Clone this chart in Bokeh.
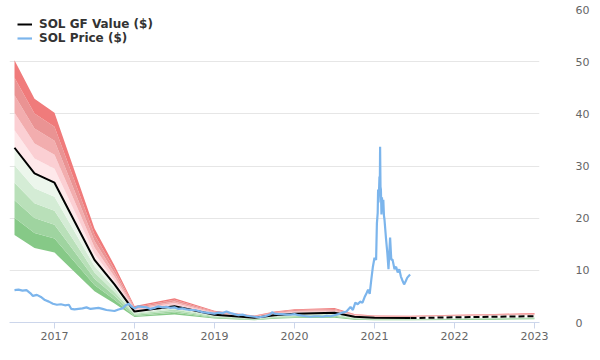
from bokeh.plotting import figure
from bokeh.models import FixedTicker, Legend, LegendItem
from bokeh.embed import file_html
from bokeh.resources import INLINE

# GF Value history (decimal years)
gf_dates = [2016.5, 2016.75, 2017.0, 2017.5, 2017.75, 2018.0, 2018.5, 2019.0,
            2019.5, 2019.75, 2020.0, 2020.5, 2020.75, 2021.0, 2021.45]
gf_values = [33.5, 28.6, 26.8, 12.0, 7.3, 2.1, 3.1, 1.5,
             0.9, 1.4, 1.7, 1.85, 1.1, 0.9, 0.85]

# GF Value projection (dashed)
proj_dates = [2021.45, 2022.0, 2022.5, 2023.0]
proj_values = [0.85, 1.0, 1.1, 1.2]

# band multipliers around GF value
band_levels = [0.5, 0.6, 0.7, 0.8, 0.9, 1.0, 1.1, 1.2, 1.3, 1.4, 1.5]
band_colors = ["#86c987", "#9fd4a0", "#b9e0b9", "#d4ecd5", "#ecf6ec",
               "#fee8ea", "#fbcfd3", "#f2adae", "#ea9393", "#f07b7b"]

# SOL price
price_dates = [
    2016.50, 2016.55, 2016.60, 2016.65, 2016.70, 2016.73, 2016.78, 2016.83, 2016.88, 2016.93,
    2016.98, 2017.03, 2017.08, 2017.13, 2017.18, 2017.21, 2017.25, 2017.30, 2017.35, 2017.40,
    2017.45, 2017.50, 2017.55, 2017.60, 2017.65, 2017.70, 2017.75, 2017.80, 2017.85, 2017.89,
    2017.93, 2017.97, 2018.00, 2018.05, 2018.10, 2018.15, 2018.20, 2018.25, 2018.30, 2018.35,
    2018.40, 2018.45, 2018.50, 2018.55, 2018.60, 2018.65, 2018.70, 2018.75, 2018.80, 2018.85,
    2018.90, 2018.95, 2019.00, 2019.05, 2019.10, 2019.15, 2019.20, 2019.25, 2019.30, 2019.35,
    2019.40, 2019.45, 2019.50, 2019.55, 2019.60, 2019.65, 2019.70, 2019.72, 2019.75, 2019.80,
    2019.85, 2019.90, 2019.95, 2020.00, 2020.05, 2020.10, 2020.15, 2020.20, 2020.25, 2020.30,
    2020.35, 2020.40, 2020.45, 2020.50, 2020.55, 2020.60, 2020.65, 2020.70, 2020.73, 2020.76,
    2020.79, 2020.82, 2020.85, 2020.88, 2020.90, 2020.92, 2020.94, 2020.96, 2020.98, 2021.00,
    2021.02, 2021.03, 2021.04, 2021.045, 2021.05, 2021.055, 2021.062, 2021.066, 2021.07, 2021.075,
    2021.08, 2021.087, 2021.093, 2021.10, 2021.11, 2021.118, 2021.125,
    2021.145, 2021.16, 2021.175, 2021.195, 2021.21, 2021.225, 2021.25, 2021.27, 2021.29, 2021.31,
    2021.33, 2021.345, 2021.37, 2021.39, 2021.41, 2021.445]
price_values = [
    6.2, 6.3, 6.1, 6.2, 5.6, 5.1, 5.3, 4.9, 4.3, 4.0,
    3.6, 3.4, 3.5, 3.3, 3.4, 2.6, 2.5, 2.6, 2.7, 2.9,
    2.6, 2.7, 2.8, 2.6, 2.4, 2.3, 2.2, 2.5, 2.7, 3.3,
    3.6, 3.0, 2.7, 3.1, 3.0, 2.9, 2.6, 2.8, 3.1, 2.9,
    3.0, 2.8, 2.9, 2.6, 2.7, 2.5, 2.4, 2.4, 2.2, 2.0,
    1.9, 1.8, 1.7, 1.9, 1.8, 2.1, 1.8, 1.6, 1.4, 1.5,
    1.3, 1.2, 1.1, 1.0, 1.1, 1.3, 1.6, 2.0, 1.7, 1.6,
    1.6, 1.5, 1.5, 1.6, 1.4, 1.3, 1.2, 1.1, 1.2, 1.2,
    1.1, 1.3, 1.2, 1.4, 1.6, 1.9, 2.1, 3.0, 2.4, 3.8,
    3.5, 4.0, 3.8, 5.0, 5.6, 6.3, 5.5, 8.2, 10.7, 12.4,
    12.0, 19.0, 21.0, 25.5, 23.0, 24.5, 28.0, 25.0, 33.7, 26.0,
    25.5, 20.7, 24.0, 22.2, 23.5, 20.5, 19.7,
    15.9, 13.4, 10.2, 16.3, 12.0, 12.1, 10.2, 10.7, 9.6, 10.2,
    8.8, 8.2, 7.3, 7.9, 8.6, 9.2]

p = figure(frame_width=530, frame_height=313, output_backend="svg",
           toolbar_location=None, y_axis_location="right",
           x_range=(2016.4375, 2023.0625), y_range=(0, 60),
           min_border_left=9, min_border_top=9, min_border_right=52,
           min_border_bottom=29, background_fill_color="white")
p.outline_line_color = None

all_dates = gf_dates + proj_dates[1:]
all_values = gf_values + proj_values[1:]
for i, col in enumerate(band_colors):
    lo = [v * band_levels[i] for v in all_values]
    hi = [v * band_levels[i + 1] for v in all_values]
    p.varea(x=all_dates, y1=lo, y2=hi, fill_color=col, fill_alpha=1.0)

gf_r = p.line(gf_dates, gf_values, line_color="black", line_width=2)
p.line(proj_dates, proj_values, line_color="white", line_width=2)
p.line(proj_dates, proj_values, line_color="black", line_width=2, line_dash="6 3")
pr_r = p.line(price_dates, price_values, line_color="#7cb5ec", line_width=2.2)

p.xgrid.visible = False
p.ygrid.grid_line_color = "#e6e6e6"
p.ygrid.ticker = FixedTicker(ticks=[0, 10, 20, 30, 40, 50, 60])

xa = p.xaxis[0]
xa.ticker = FixedTicker(ticks=[2017, 2018, 2019, 2020, 2021, 2022, 2023])
xa.axis_line_color = "#ccd6eb"
xa.major_tick_line_color = "#ccd6eb"
xa.major_tick_out = 6
xa.major_tick_in = 0
xa.minor_tick_line_color = None
xa.major_label_text_font = "DejaVu Sans"
xa.major_label_text_font_size = "11px"
xa.major_label_text_color = "#666666"
xa.major_label_standoff = 3

ya = p.yaxis[0]
ya.ticker = FixedTicker(ticks=[0, 10, 20, 30, 40, 50, 60])
ya.axis_line_color = None
ya.major_tick_line_color = None
ya.minor_tick_line_color = None
ya.major_tick_out = 0
ya.major_tick_in = 0
ya.major_label_standoff = 36
ya.major_label_text_font = "DejaVu Sans"
ya.major_label_text_font_size = "11px"
ya.major_label_text_color = "#666666"

legend = Legend(items=[LegendItem(label="SOL GF Value ($)", renderers=[gf_r]),
                       LegendItem(label="SOL Price ($)", renderers=[pr_r])],
                location="top_left", margin=8, padding=6,
                background_fill_alpha=0, border_line_color=None,
                label_text_font="DejaVu Sans", label_text_font_style="bold",
                label_text_font_size="12px", label_text_color="#333333",
                label_text_line_height=1.0,
                glyph_width=15, glyph_height=14, label_height=14,
                label_standoff=7, spacing=0)
p.add_layout(legend)

open("out.html", "w").write(file_html(p, INLINE))
